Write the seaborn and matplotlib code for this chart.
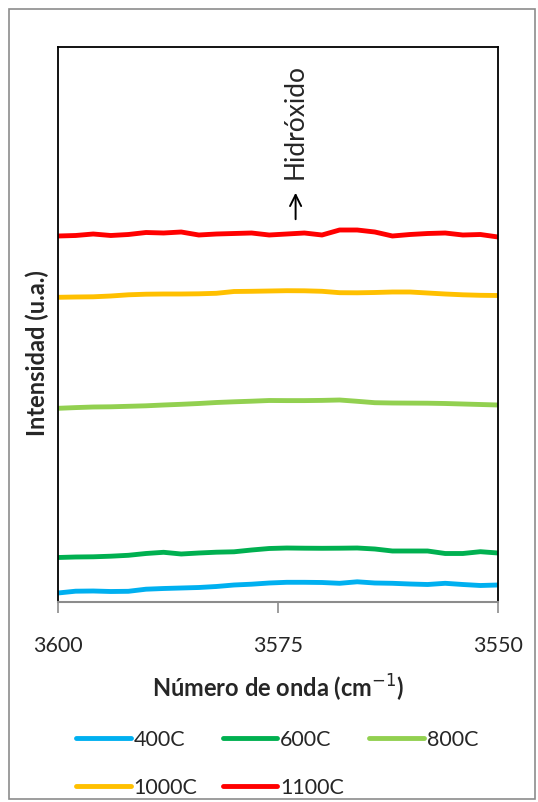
import numpy as np
import pandas as pd
import seaborn as sns
import matplotlib.pyplot as plt
from matplotlib.patches import Rectangle

# data (wavenumber every 2 cm-1)
wavenumber = list(range(3600, 3549, -2))
i_400 = [9, 10.8, 11, 10.5, 10.7, 12.8, 13.5, 14, 14.5, 15.5, 17, 17.8, 19,
         19.7, 19.7, 19.5, 18.7, 20.2, 19, 18.7, 18, 17.5, 18.7, 17.5, 16.5, 17]
i_600 = [44.5, 45, 45.2, 45.8, 46.7, 48.5, 49.7, 48, 49, 49.8, 50.2, 52, 53.5,
         54, 53.8, 53.7, 53.8, 54, 53, 51, 51, 51, 48.5, 48.5, 50.3, 49]
i_800 = [193.7, 194.4, 195, 195.2, 195.7, 196.2, 197, 197.7, 198.5, 199.5, 200.2,
         200.8, 201.5, 201.4, 201.4, 201.6, 202, 200.7, 199.3, 199, 198.9, 198.8,
         198.5, 198, 197.5, 197]
i_1000 = [304.7, 305, 305.2, 306, 307.2, 307.8, 308, 308, 308.2, 308.7, 310.5,
          310.7, 311, 311.3, 311.2, 310.7, 309.3, 309.2, 309.5, 310, 310, 309, 308,
          307.2, 306.7, 306.5]
i_1100 = [366, 366.5, 368, 366.5, 367.5, 369.5, 369, 370, 367, 368, 368.5, 369,
          367, 368, 369, 367, 372, 372, 370, 366, 367.5, 368.5, 369, 367, 367.5, 365]

labels = ['400C', '600C', '800C', '1000C', '1100C']
colors = ['#00B0F0', '#00B050', '#92D050', '#FFC000', '#FF0000']

df = pd.DataFrame({'wn': wavenumber * 5,
                   'val': i_400 + i_600 + i_800 + i_1000 + i_1100,
                   'serie': np.repeat(labels, len(wavenumber))})

sns.set_style('white')
plt.rcParams['font.family'] = ['Lato', 'DejaVu Sans']

fig = plt.figure(figsize=(5.38, 8.03), dpi=100)
fig.patches.append(Rectangle((9 / 538, 3 / 803), 526 / 538, 790 / 803, transform=fig.transFigure,
                             fill=False, edgecolor='#8c8c8c', linewidth=1.2))
ax = fig.add_axes([58 / 538, 200 / 803, 440 / 538, 555 / 803])

sns.lineplot(data=df, x='wn', y='val', hue='serie', palette=colors, hue_order=labels,
             linewidth=3.5, ax=ax, legend=False, solid_capstyle='round')

ax.set_xlim(3600, 3550)
ax.set_ylim(0, 555)
ax.set_xticks([3600, 3575, 3550])
ax.set_yticks([])
ax.tick_params(axis='x', direction='out', length=8, width=1.2, color='#8c8c8c',
               labelsize=15.5, pad=16, bottom=True)
for s in ['top', 'left', 'right']:
    ax.spines[s].set_color('black')
    ax.spines[s].set_linewidth(1.3)
ax.spines['bottom'].set_color('#8c8c8c')
ax.spines['bottom'].set_linewidth(1.5)

ax.set_xlabel('Número de onda (cm$^{-1}$)', fontsize=17, fontweight='bold', labelpad=12)
ax.set_ylabel('Intensidad (u.a.)', fontsize=17, fontweight='bold')
ax.yaxis.set_label_coords(-0.021, 0.45)

ax.annotate('', xy=(3573, 412), xytext=(3573, 380),
            arrowprops=dict(arrowstyle='->', color='black', lw=1.4, mutation_scale=20))
ax.text(3573, 424, 'Hidróxido', rotation=90, ha='center', va='bottom', fontsize=19)

lines = ax.get_lines()
order = [0, 3, 1, 4, 2]
fig.legend([lines[i] for i in order], [labels[i] for i in order], loc='center',
           bbox_to_anchor=(0.515, 0.048), ncol=3, frameon=False, fontsize=15.5,
           handlelength=2.55, handletextpad=0.12, columnspacing=1.17, labelspacing=1.3)

fig.savefig('out.png', dpi=100)
